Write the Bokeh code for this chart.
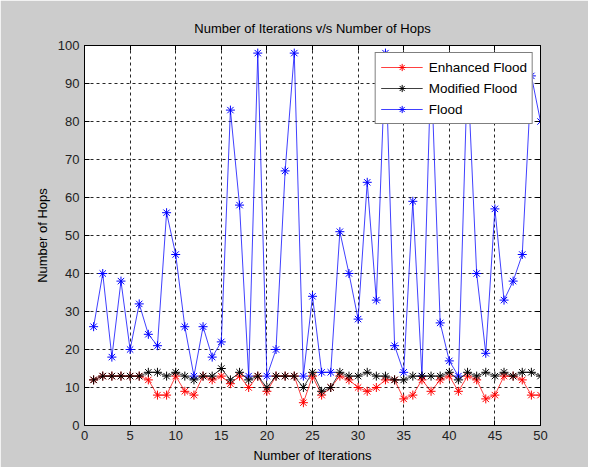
from bokeh.plotting import figure
from bokeh.models import LinearAxis, SingleIntervalTicker, CustomJSTickFormatter, Legend, LegendItem, Range1d
from bokeh.embed import file_html
from bokeh.resources import INLINE

iterations = [1, 2, 3, 4, 5, 6, 7, 8, 9, 10, 11, 12, 13, 14, 15, 16, 17, 18, 19, 20,
              21, 22, 23, 24, 25, 26, 27, 28, 29, 30, 31, 32, 33, 34, 35, 36, 37, 38, 39, 40,
              41, 42, 43, 44, 45, 46, 47, 48, 49, 50]
enhanced_flood = [12, 13, 13, 13, 13, 13, 12, 8, 8, 13, 9, 8, 13, 12, 13, 11, 13, 10, 13, 9,
                  13, 13, 13, 6, 13, 8, 10, 13, 12, 10, 9, 10, 12, 12, 7, 8, 12, 9, 12, 13,
                  9, 13, 12, 7, 8, 13, 13, 12, 8, 8]
modified_flood = [12, 13, 13, 13, 13, 13, 14, 14, 13, 14, 13, 12, 13, 13, 15, 12, 14, 12, 13, 10,
                  13, 13, 13, 10, 14, 9, 10, 14, 13, 13, 14, 13, 13, 12, 12, 13, 13, 13, 13, 14,
                  12, 14, 13, 14, 13, 14, 13, 14, 14, 13]
flood = [26, 40, 18, 38, 20, 32, 24, 21, 56, 45, 26, 13, 26, 18, 22, 83, 58, 13, 98, 13,
         20, 67, 98, 13, 34, 14, 14, 51, 40, 28, 64, 33, 98, 21, 14, 59, 13, 95, 27, 17,
         13, 94, 40, 19, 57, 33, 38, 45, 92, 80]

FONT = "Liberation Sans"

p = figure(width=588, height=467, output_backend="svg", toolbar_location=None,
           x_range=Range1d(0, 50), y_range=Range1d(0, 100),
           title="Number of Iterations v/s Number of Hops",
           min_border_left=84, min_border_right=48, min_border_top=45, min_border_bottom=42)
p.background_fill_color = "white"
p.border_fill_color = "#cccccc"
p.outline_line_color = "black"
p.outline_line_width = 1

p.title.align = "center"
p.title.text_font = FONT
p.title.text_font_size = "13px"
p.title.text_font_style = "normal"
p.title.text_color = "black"
p.title.standoff = 19

for ax in [p.xaxis[0], p.yaxis[0]]:
    ax.major_tick_in = 5
    ax.major_tick_out = 0
    ax.minor_tick_in = 0
    ax.minor_tick_out = 0
    ax.axis_line_color = "black"
    ax.major_tick_line_color = "black"
    ax.major_label_text_font = FONT
    ax.major_label_text_font_size = "13px"
    ax.major_label_text_color = "#222222"
    ax.axis_label_text_font = FONT
    ax.axis_label_text_font_size = "13px"
    ax.axis_label_text_font_style = "normal"
    ax.axis_label_text_color = "black"
    ax.major_label_standoff = 5

p.xaxis[0].ticker = SingleIntervalTicker(interval=5)
p.yaxis[0].ticker = SingleIntervalTicker(interval=10)
p.xaxis[0].axis_label = "Number of Iterations"
p.yaxis[0].axis_label = "Number of Hops"
p.xaxis[0].axis_label_standoff = 5
p.yaxis[0].axis_label_standoff = 5

blank = CustomJSTickFormatter(code="return '';")
top = LinearAxis(ticker=SingleIntervalTicker(interval=5), formatter=blank,
                 major_tick_in=5, major_tick_out=0, minor_tick_in=0, minor_tick_out=0,
                 major_label_standoff=0)
right = LinearAxis(ticker=SingleIntervalTicker(interval=10), formatter=blank,
                   major_tick_in=5, major_tick_out=0, minor_tick_in=0, minor_tick_out=0,
                   major_label_standoff=0)
p.add_layout(top, "above")
p.add_layout(right, "right")

for g in [p.xgrid[0], p.ygrid[0]]:
    g.grid_line_color = "black"
    g.grid_line_dash = "3 3"
    g.grid_line_alpha = 0.85
    g.grid_line_width = 1
p.xgrid[0].ticker = SingleIntervalTicker(interval=5)
p.ygrid[0].ticker = SingleIntervalTicker(interval=10)

series = [("Enhanced Flood", enhanced_flood, "#ff0000"),
          ("Modified Flood", modified_flood, "#000000"),
          ("Flood", flood, "#0000ff")]

renderers = {}
for name, vals, col in [series[2], series[0], series[1]]:
    l = p.line(iterations, vals, line_color=col, line_width=1, alpha=0.75)
    m = p.scatter(iterations, vals, marker="asterisk", size=9, line_color=col, line_width=1)
    renderers[name] = [l, m]

items = [LegendItem(label=name, renderers=renderers[name]) for name, vals, col in series]

legend = Legend(items=items, location="top_right")
legend.border_line_color = "black"
legend.border_line_width = 1
legend.background_fill_color = "white"
legend.background_fill_alpha = 1
legend.label_text_font = FONT
legend.label_text_font_size = "13.5px"
legend.label_text_color = "black"
legend.glyph_width = 42
legend.glyph_height = 18
legend.label_height = 18
legend.spacing = 3
legend.padding = 5
legend.margin = 7
legend.label_standoff = 6
p.add_layout(legend)

open("out.html", "w").write(file_html(p, INLINE))
